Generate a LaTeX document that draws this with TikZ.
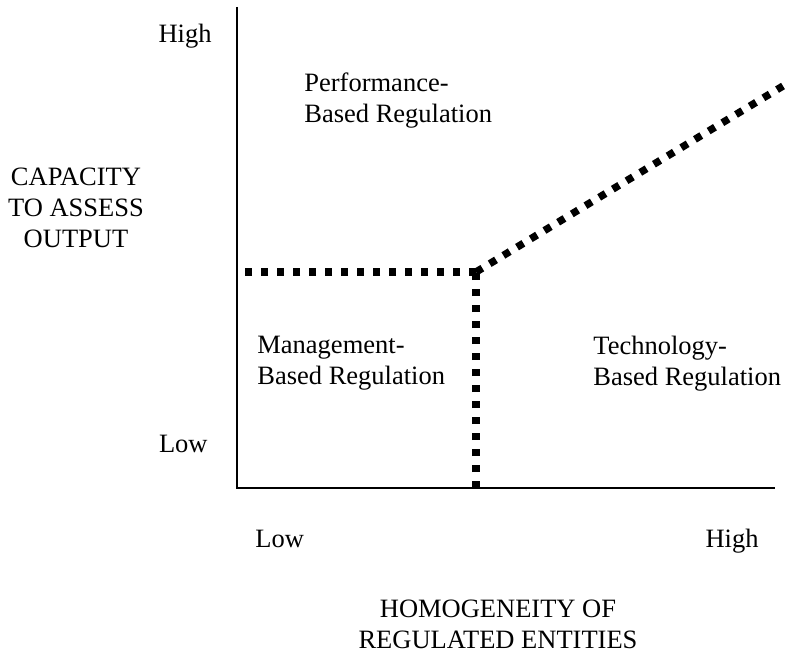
\documentclass[tikz,border=0pt]{standalone}
\usepackage{fontspec}
\setmainfont{Liberation Serif}

\tikzset{
  axis/.style={line width=1pt},
  boundary/.style={line width=3.7pt, dash pattern=on 3.7pt off 4.3pt},
  lbl/.style={inner sep=0pt, font=\fontsize{13.25}{15.5}\selectfont},
  region/.style={lbl, align=left, anchor=north west},
}

\begin{document}
\begin{tikzpicture}[x=0.5pt, y=0.5pt]
      \useasboundingbox (-237,-166) rectangle (554,488);
      % axes
      \coordinate (O) at (0,0);
      \coordinate (ytop) at (0,481);
      \coordinate (xend) at (538,0);
      \draw[axis] (ytop) -- (O) -- (xend);
      % region boundaries
      \coordinate (brk) at (239,216);
      \coordinate (hstart) at (8,216);
      \coordinate (vend) at (239,0);
      \coordinate (dend) at (546,402);
      \draw[boundary] (brk) -- (hstart);
      \draw[boundary] (vend) -- (brk);
      \draw[boundary] (brk) -- (dend);
      % vertical axis labels
      \node[lbl, anchor=base east] (yhigh) at (-25,445) {High};
      \node[lbl, anchor=base east] (ylow) at (-29,36) {Low};
      \node[lbl, align=center, anchor=north] (ytitle) at (-161,320) {CAPACITY\\TO ASSESS\\OUTPUT};
      % horizontal axis labels
      \node[lbl, anchor=base west] (xlow) at (18,-59) {Low};
      \node[lbl, anchor=base east] (xhigh) at (522,-59) {High};
      \node[lbl, align=center, anchor=north] (xtitle) at (261,-112) {HOMOGENEITY OF\\REGULATED ENTITIES};
      % regions
      \node[region] (perf) at (67,416) {Performance-\\Based Regulation}; % top
      \node[region] (mgmt) at (20,152) {Management-\\Based Regulation}; % left
      \node[region] (tech) at (356,152) {Technology-\\Based Regulation}; % right
\end{tikzpicture}
\end{document}
